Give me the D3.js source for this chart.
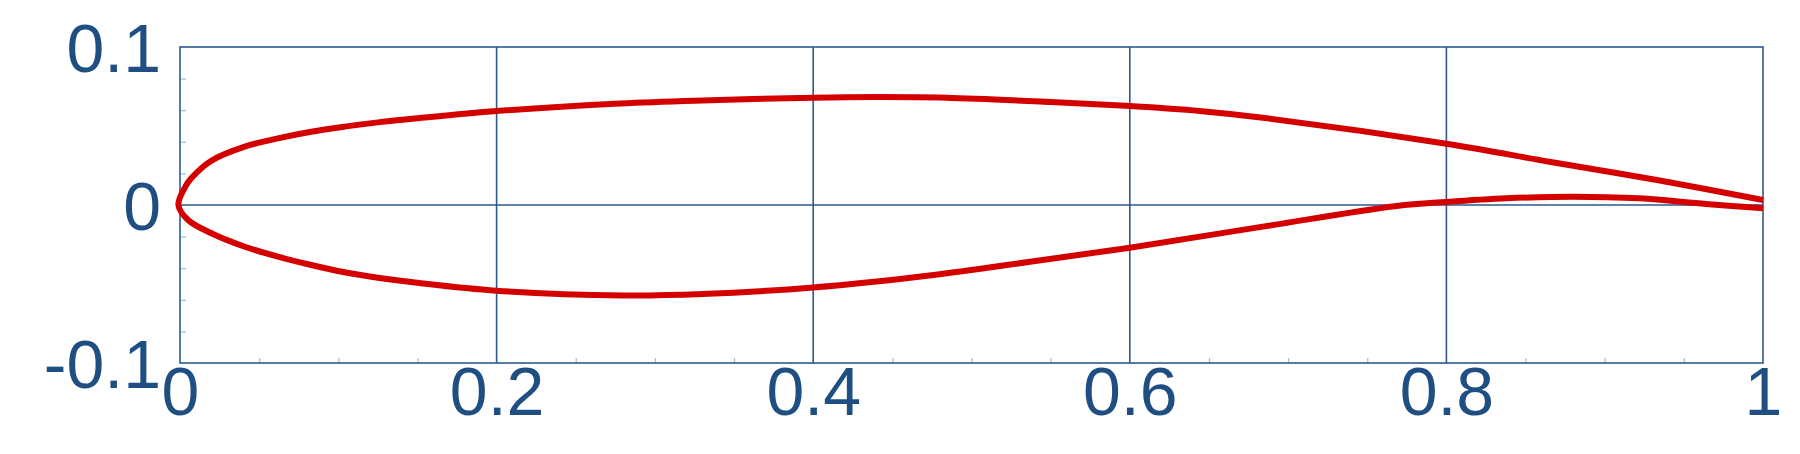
<!DOCTYPE html>
<html lang="en">
<head>
    <meta charset="UTF-8">
    <title>Airfoil Profile</title>
    <script src="https://d3js.org/d3.v7.min.js"></script>
    <style>
        body {
            margin: 0;
            background-color: #ffffff;
            font-family: 'Liberation Sans', Arial, Helvetica, sans-serif;
        }
        .tick text {
            fill: #1f4e82;
        }
    </style>
</head>
<body>
    <svg id="chart" width="1800" height="454"></svg>
    <script>
        // upper surface, leading edge to trailing edge
        const upperX = [-0.001, 0.0034, 0.0071, 0.0198, 0.0409, 0.0619, 0.0829, 0.104, 0.125, 0.15, 0.2, 0.278, 0.33, 0.4, 0.44, 0.484, 0.55, 0.6, 0.644, 0.684, 0.8, 0.865, 0.933, 1.0];
        const upperY = [0, 0.0116, 0.0169, 0.0280, 0.0369, 0.0422, 0.0464, 0.0496, 0.0523, 0.0549, 0.0595, 0.0643, 0.0662, 0.0679, 0.0683, 0.0679, 0.0652, 0.0626, 0.0595, 0.0552, 0.0388, 0.0274, 0.0158, 0.0032];
        // lower surface, leading edge to trailing edge
        const lowerX = [-0.001, 0.0051, 0.0198, 0.0409, 0.0619, 0.0829, 0.104, 0.125, 0.15, 0.2, 0.28, 0.33, 0.4, 0.476, 0.537, 0.6, 0.684, 0.7686, 0.8, 0.838, 0.88, 0.922, 0.964, 1.0];
        const lowerY = [0, -0.0095, -0.0179, -0.0264, -0.0327, -0.038, -0.0426, -0.046, -0.0492, -0.0542, -0.0572, -0.0563, -0.0522, -0.0443, -0.0359, -0.027, -0.0137, -0.0006, 0.0019, 0.0042, 0.0053, 0.0042, 0.0006, -0.0021];

        const xTicks = [0, 0.2, 0.4, 0.6, 0.8, 1];
        const yTicks = [-0.1, 0, 0.1];
        const xMinor = [0.05, 0.1, 0.15, 0.25, 0.3, 0.35, 0.45, 0.5, 0.55, 0.65, 0.7, 0.75, 0.85, 0.9, 0.95];
        const yMinor = [-0.08, -0.06, -0.04, -0.02, 0.02, 0.04, 0.06, 0.08];

        const svg = d3.select("#chart"),
              margin = { top: 47, right: 37, bottom: 91, left: 180 },
              width = +svg.attr("width") - margin.left - margin.right,
              height = +svg.attr("height") - margin.top - margin.bottom,
              g = svg.append("g").attr("transform", `translate(${margin.left},${margin.top})`);

        const x = d3.scaleLinear().domain([0, 1]).range([0, width]);
        const y = d3.scaleLinear().domain([-0.1, 0.1]).range([height, 0]);

        const lineColor = "#2c5a8e";

        // grid lines
        g.append("g")
            .selectAll("line")
            .data(xTicks.filter(d => d > 0 && d < 1))
            .join("line")
            .attr("x1", d => x(d)).attr("x2", d => x(d))
            .attr("y1", 0).attr("y2", height)
            .attr("stroke", lineColor).attr("stroke-width", 1.6);

        g.append("line")
            .attr("x1", 0).attr("x2", width)
            .attr("y1", y(0)).attr("y2", y(0))
            .attr("stroke", lineColor).attr("stroke-width", 1.6);

        // minor ticks
        const minorX = g.append("g")
            .attr("transform", `translate(0,${height})`)
            .call(d3.axisTop(x).tickValues(xMinor).tickSize(5).tickFormat(""));
        const minorY = g.append("g")
            .call(d3.axisRight(y).tickValues(yMinor).tickSize(6).tickFormat(""));
        [minorX, minorY].forEach(a => {
            a.select(".domain").remove();
            a.selectAll("line").attr("stroke", "#a7b9d3").attr("stroke-width", 1.2);
        });

        // tick labels
        const xAxis = g.append("g")
            .attr("transform", `translate(0,${height})`)
            .call(d3.axisBottom(x).tickValues(xTicks).tickSize(0).tickPadding(4).tickFormat(d => String(d)));
        const yAxis = g.append("g")
            .call(d3.axisLeft(y).tickValues(yTicks).tickSize(0).tickPadding(19).tickFormat(d => String(d)));
        [xAxis, yAxis].forEach(a => {
            a.select(".domain").remove();
            a.selectAll("text")
                .attr("font-family", "'Liberation Sans', Arial, sans-serif")
                .attr("font-size", 68);
        });
        yAxis.selectAll("text").attr("dy", "0.36em");

        // frame
        g.append("rect")
            .attr("width", width).attr("height", height)
            .attr("fill", "none")
            .attr("stroke", lineColor).attr("stroke-width", 1.6);

        // airfoil outline: upper TE -> LE -> lower TE
        const pts = upperX.map((d, i) => [d, upperY[i]]).reverse()
            .concat(lowerX.slice(1).map((d, i) => [d, lowerY[i + 1]]));

        const line = d3.line()
            .x(d => x(d[0]))
            .y(d => y(d[1]))
            .curve(d3.curveCatmullRom.alpha(0.5));

        g.append("path")
            .datum(pts)
            .attr("fill", "none")
            .attr("stroke", "#d40000")
            .attr("stroke-width", 6)
            .attr("stroke-linejoin", "round")
            .attr("d", line);
    </script>
</body>
</html>
